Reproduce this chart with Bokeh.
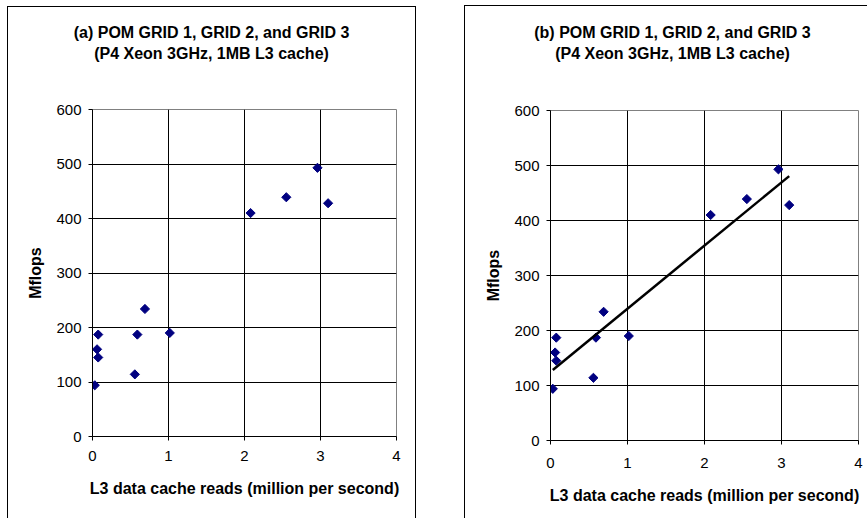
import numpy as np
from bokeh.plotting import figure
from bokeh.layouts import row, column
from bokeh.models import Range1d, FixedTicker, Label
from bokeh.embed import file_html
from bokeh.resources import INLINE

# ---- data ----
l3_reads = [0.03, 0.06, 0.075, 0.075, 0.557, 0.59, 0.69, 1.017, 2.08, 2.55, 2.96, 3.10]
mflops = [94, 160, 145, 187, 114, 187, 234, 190, 410, 439, 493, 428]
x_ticks = [0, 1, 2, 3, 4]
y_ticks = [0, 100, 200, 300, 400, 500, 600]
title_line1 = ["(a) POM GRID 1, GRID 2, and GRID 3", "(b) POM GRID 1, GRID 2, and GRID 3"]
title_line2 = "(P4 Xeon 3GHz, 1MB L3 cache)"
x_label = "L3 data cache reads (million per second)"
y_label = "Mflops"

FONT = "Liberation Sans"
TITLE_H = 95
W = 867

# one strip across the page holds both two-line chart titles
t = figure(width=W, height=TITLE_H, output_backend="svg", toolbar_location=None,
           x_range=Range1d(0, W), y_range=Range1d(TITLE_H, 0),
           x_axis_type=None, y_axis_type=None, min_border=0)
t.grid.visible = False
t.outline_line_color = None
t.background_fill_color = None
t.border_fill_color = None
for title1, cx in ((title_line1[0], 211), (title_line1[1], 672)):
    for txt, y in ((title1, 32), (title_line2, 53)):
        t.add_layout(Label(x=cx, y=y, text=txt, text_font=FONT, text_font_size="16px",
                           text_font_style="bold", text_align="center",
                           text_baseline="middle", text_color="black"))


def make_panel(width, bl, br, bt, bb, trend, xl_so, xt_so):
    p = figure(width=width, height=518 - TITLE_H, output_backend="svg", toolbar_location=None,
               x_range=Range1d(0, 4), y_range=Range1d(0, 600),
               min_border_left=bl, min_border_right=br, min_border_top=bt, min_border_bottom=bb)
    p.background_fill_color = "white"
    p.border_fill_color = None
    p.outline_line_color = "#808080"
    p.outline_line_width = 1
    p.xaxis.ticker = FixedTicker(ticks=x_ticks)
    p.yaxis.ticker = FixedTicker(ticks=y_ticks)
    p.xgrid.ticker = FixedTicker(ticks=x_ticks[1:-1])
    p.ygrid.ticker = FixedTicker(ticks=y_ticks[1:-1])
    for g in (p.xgrid, p.ygrid):
        g.grid_line_color = "black"
        g.grid_line_width = 1
    for ax in (p.xaxis, p.yaxis):
        ax.axis_line_color = "black"
        ax.major_tick_line_color = "black"
        ax.minor_tick_line_color = None
        ax.major_tick_in = 0
        ax.major_tick_out = 4
        ax.major_label_text_font = FONT
        ax.major_label_text_font_size = "15px"
        ax.major_label_text_color = "black"
        ax.axis_label_text_font = FONT
        ax.axis_label_text_font_size = "16px"
        ax.axis_label_text_font_style = "bold"
        ax.axis_label_text_color = "black"
    p.xaxis.axis_label = x_label
    p.yaxis.axis_label = y_label
    p.xaxis.major_label_standoff = xt_so
    p.yaxis.major_label_standoff = 7
    p.xaxis.axis_label_standoff = xl_so
    p.yaxis.axis_label_standoff = 9

    p.scatter(l3_reads, mflops, marker="square", angle=np.pi / 4, size=6.5,
              fill_color="#000080", line_color="#000080")
    if trend:
        k, b = np.polyfit(l3_reads, mflops, 1)
        xs = [min(l3_reads), max(l3_reads)]
        p.line(xs, [k * x + b for x in xs], line_color="black", line_width=2.5)
    return p


p1 = make_panel(440, 92, 44, 109 - TITLE_H, 82, False, 16, 10)
p2 = make_panel(427, 110, 9, 110 - TITLE_H, 78, True, 16, 13)

# wrapping each panel in its own column keeps their frames independent
layout = column(t, row(column(p1), column(p2)))
# outer chart-area borders of the two panels (left, right, top of panel a; left, top of panel b)
layout.styles = {
    "background-color": "white",
    "background-image": ", ".join(["linear-gradient(#000, #000)"] * 5),
    "background-size": "1px 512px, 1px 512px, 409px 1px, 1px 513px, 403px 1px",
    "background-position": "7px 6px, 415px 6px, 7px 6px, 464px 5px, 464px 5px",
    "background-repeat": "no-repeat",
}
open("out.html", "w").write(file_html(layout, INLINE))
